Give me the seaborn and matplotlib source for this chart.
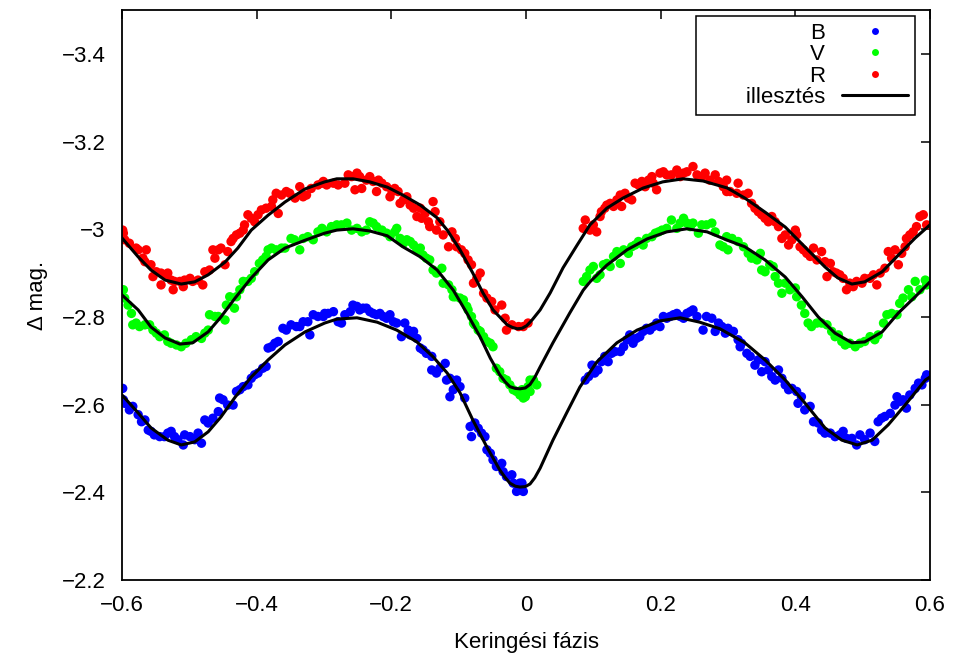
import numpy as np
import pandas as pd
import matplotlib
matplotlib.use("Agg")
import matplotlib.pyplot as plt
from matplotlib.ticker import FuncFormatter
from matplotlib.lines import Line2D
import seaborn as sns

# ---- observed magnitudes (phase, delta mag) ----
b_phase = [-0.599, -0.598, -0.596, -0.589, -0.584, -0.576, -0.571, -0.566, -0.561, -0.557, -0.552, -0.544,
           -0.537, -0.532, -0.527, -0.522, -0.517, -0.509, -0.507, -0.499, -0.492, -0.487, -0.482, -0.477,
           -0.472, -0.465, -0.457, -0.455, -0.450, -0.443, -0.435, -0.430, -0.425, -0.420, -0.413, -0.408,
           -0.403, -0.398, -0.391, -0.386, -0.383, -0.378, -0.373, -0.368, -0.361, -0.356, -0.349, -0.341,
           -0.336, -0.331, -0.324, -0.321, -0.316, -0.309, -0.299,
           -0.301, -0.294, -0.286, -0.279, -0.274, -0.269, -0.261, -0.257, -0.251, -0.247, -0.242, -0.237,
           -0.232, -0.227, -0.222, -0.217, -0.212, -0.207, -0.202, -0.197, -0.192, -0.185, -0.180, -0.175,
           -0.172, -0.167, -0.162, -0.157, -0.153, -0.148, -0.140, -0.140, -0.133, -0.128, -0.120, -0.118,
           -0.113, -0.108, -0.103, -0.113, -0.098, -0.091, -0.083, -0.081, -0.076, -0.071, -0.066, -0.061,
           -0.058, -0.053, -0.049, -0.044, -0.036, -0.034, -0.029, -0.021, -0.019, -0.014, -0.009, -0.006,
           -0.004,
           0.088, 0.093, 0.098, 0.102, 0.107, 0.112, 0.117, 0.122, 0.127, 0.132, 0.140, 0.145, 0.150, 0.154,
           0.159, 0.164, 0.169, 0.174, 0.179, 0.184, 0.189, 0.194, 0.199, 0.204, 0.209, 0.214, 0.219, 0.224,
           0.229, 0.234, 0.239, 0.244, 0.248, 0.254, 0.263, 0.268, 0.276, 0.281, 0.286, 0.291, 0.296, 0.300,
           0.300, 0.308, 0.315, 0.320, 0.318, 0.328, 0.333, 0.340, 0.345, 0.350, 0.355, 0.360, 0.365, 0.370,
           0.375, 0.380, 0.385, 0.390, 0.395, 0.402, 0.404, 0.409, 0.414, 0.422, 0.427, 0.434, 0.439, 0.444,
           0.452, 0.459, 0.466, 0.471, 0.476, 0.484, 0.491, 0.496, 0.503, 0.511, 0.518, 0.523, 0.528, 0.533,
           0.541, 0.548, 0.551, 0.555, 0.560, 0.565, 0.570, 0.578, 0.583, 0.588, 0.593, 0.595]
b_mag = [-2.637, -2.611, -2.603, -2.588, -2.596, -2.577, -2.561, -2.565, -2.542, -2.539, -2.531, -2.527,
         -2.527, -2.535, -2.539, -2.527, -2.520, -2.508, -2.531, -2.527, -2.520, -2.535, -2.512, -2.565,
         -2.558, -2.569, -2.584, -2.615, -2.611, -2.599, -2.599, -2.630, -2.634, -2.641, -2.645, -2.660,
         -2.668, -2.672, -2.683, -2.687, -2.729, -2.732, -2.740, -2.744, -2.774, -2.770, -2.782, -2.778,
         -2.778, -2.789, -2.789, -2.759, -2.805, -2.801, -2.808,
         -2.801, -2.808, -2.812, -2.789, -2.786, -2.805, -2.812, -2.827, -2.824, -2.816, -2.820, -2.820,
         -2.812, -2.808, -2.805, -2.808, -2.801, -2.797, -2.805, -2.789, -2.786, -2.755, -2.786, -2.770,
         -2.759, -2.767, -2.751, -2.729, -2.725, -2.717, -2.710, -2.679, -2.672, -2.683, -2.694, -2.656,
         -2.660, -2.634, -2.656, -2.618, -2.641, -2.615, -2.550, -2.527, -2.558, -2.546, -2.535, -2.527,
         -2.497, -2.489, -2.474, -2.459, -2.466, -2.447, -2.436, -2.440, -2.421, -2.402, -2.421, -2.421,
         -2.402,
         -2.656, -2.664, -2.690, -2.672, -2.679, -2.698, -2.710, -2.698, -2.717, -2.721, -2.721, -2.732,
         -2.748, -2.759, -2.740, -2.751, -2.755, -2.767, -2.774, -2.770, -2.778, -2.786, -2.778, -2.801,
         -2.797, -2.801, -2.805, -2.808, -2.801, -2.797, -2.808, -2.812, -2.816, -2.801, -2.770, -2.801,
         -2.797, -2.767, -2.786, -2.778, -2.763, -2.767,
         -2.774, -2.767, -2.748, -2.740, -2.732, -2.717, -2.710, -2.690, -2.702, -2.675, -2.698, -2.679,
         -2.664, -2.656, -2.679, -2.660, -2.645, -2.634, -2.637, -2.630, -2.603, -2.618, -2.588, -2.596,
         -2.561, -2.558, -2.542, -2.535, -2.535, -2.527, -2.531, -2.539, -2.523, -2.523, -2.508, -2.531,
         -2.520, -2.535, -2.516, -2.561, -2.569, -2.573, -2.580, -2.599, -2.618, -2.607, -2.611, -2.592,
         -2.622, -2.637, -2.649, -2.645, -2.660, -2.668]

v_phase = [-0.598, -0.596, -0.591, -0.586, -0.584, -0.579, -0.574, -0.566, -0.559, -0.554, -0.549, -0.544,
           -0.537, -0.532, -0.527, -0.519, -0.512, -0.505, -0.497, -0.490, -0.482, -0.477, -0.472, -0.470,
           -0.462, -0.457, -0.447, -0.445, -0.440, -0.433, -0.430, -0.425, -0.420, -0.413, -0.408, -0.403,
           -0.396, -0.391, -0.386, -0.383, -0.378, -0.371, -0.363, -0.358, -0.349, -0.344, -0.336, -0.331,
           -0.324, -0.316, -0.309, -0.301,
           -0.303, -0.296, -0.289, -0.281, -0.274, -0.266, -0.259, -0.251, -0.244, -0.237, -0.232, -0.227,
           -0.222, -0.214, -0.207, -0.202, -0.195, -0.192, -0.187, -0.182, -0.177, -0.172, -0.167, -0.162,
           -0.157, -0.153, -0.148, -0.143, -0.138, -0.133, -0.125, -0.123, -0.115, -0.110, -0.105, -0.098,
           -0.093, -0.086, -0.081, -0.076, -0.068, -0.063, -0.058, -0.053, -0.049,
           -0.108, -0.088, -0.078, -0.071, -0.044, -0.039, -0.034, -0.029, -0.024, -0.019, -0.014, -0.009,
           -0.004, 0.003, 0.006, -0.006, -0.001, 0.006, 0.011, 0.016,
           0.085, 0.090, 0.095, 0.100, 0.105, 0.110, 0.115, 0.120, 0.125, 0.130, 0.135, 0.140, 0.145, 0.152,
           0.157, 0.162, 0.167, 0.174, 0.179, 0.187, 0.192, 0.197, 0.202, 0.209, 0.216, 0.224, 0.229, 0.234,
           0.239, 0.244, 0.248, 0.256, 0.261, 0.268, 0.276, 0.281, 0.288, 0.293, 0.298, 0.300,
           0.306, 0.315, 0.323, 0.330, 0.335, 0.343, 0.348, 0.350, 0.355, 0.362, 0.367, 0.370, 0.375, 0.380,
           0.385, 0.392, 0.400, 0.402, 0.409, 0.414, 0.419, 0.424, 0.432, 0.439, 0.447, 0.454, 0.459, 0.464,
           0.469, 0.474, 0.481, 0.489, 0.496, 0.503, 0.511, 0.518, 0.523, 0.531, 0.536, 0.543, 0.551, 0.555,
           0.560, 0.568, 0.573, 0.578, 0.585, 0.593, 0.595]
v_mag = [-2.862, -2.843, -2.827, -2.808, -2.782, -2.786, -2.778, -2.782, -2.782, -2.770, -2.763, -2.755,
         -2.759, -2.744, -2.740, -2.736, -2.732, -2.740, -2.748, -2.755, -2.751, -2.763, -2.770, -2.805,
         -2.801, -2.801, -2.793, -2.827, -2.846, -2.820, -2.846, -2.862, -2.881, -2.881, -2.888, -2.903,
         -2.922, -2.930, -2.938, -2.953, -2.957, -2.953, -2.957, -2.957, -2.979, -2.976, -2.953, -2.979,
         -2.983, -2.976, -2.994, -2.998,
         -3.002, -2.994, -3.006, -3.010, -3.010, -3.014, -2.998, -3.002, -2.994, -2.998, -3.017, -3.014,
         -3.006, -2.998, -2.991, -2.983, -2.994, -3.002, -2.979, -2.968, -2.976, -2.972, -2.964, -2.953,
         -2.957, -2.941, -2.934, -2.930, -2.907, -2.900, -2.911, -2.877, -2.873, -2.862, -2.846, -2.843,
         -2.839, -2.816, -2.801, -2.782, -2.767, -2.755, -2.744, -2.740, -2.732,
         -2.846, -2.824, -2.786, -2.770, -2.683, -2.675, -2.660, -2.656, -2.645, -2.634, -2.630, -2.622,
         -2.615, -2.641, -2.656, -2.634, -2.618, -2.630, -2.656, -2.645,
         -2.881, -2.892, -2.907, -2.915, -2.888, -2.896, -2.919, -2.922, -2.915, -2.938, -2.949, -2.922,
         -2.953, -2.945, -2.960, -2.964, -2.972, -2.964, -2.979, -2.983, -2.991, -2.994, -2.998, -3.002,
         -3.021, -3.002, -3.014, -3.025, -3.014, -3.006, -3.014, -2.991, -3.010, -3.010, -3.014, -2.994,
         -2.964, -2.960, -2.983, -2.953,
         -2.979, -2.972, -2.960, -2.945, -2.934, -2.930, -2.945, -2.907, -2.903, -2.919, -2.915, -2.892,
         -2.877, -2.854, -2.877, -2.862, -2.866, -2.846, -2.827, -2.808, -2.786, -2.778, -2.786, -2.786,
         -2.782, -2.767, -2.755, -2.759, -2.744, -2.736, -2.740, -2.732, -2.740, -2.744, -2.755, -2.748,
         -2.759, -2.786, -2.805, -2.808, -2.805, -2.831, -2.843, -2.862, -2.846, -2.881, -2.862, -2.884,
         -2.873]

r_phase = [-0.599, -0.598, -0.596, -0.589, -0.579, -0.576, -0.564, -0.569, -0.566, -0.557, -0.554, -0.549,
           -0.542, -0.537, -0.532, -0.542, -0.527, -0.522, -0.524, -0.514, -0.507, -0.509, -0.499, -0.495,
           -0.487, -0.480, -0.477, -0.470, -0.465, -0.462, -0.457, -0.453, -0.447, -0.443, -0.438, -0.435,
           -0.430, -0.425, -0.420, -0.418, -0.413, -0.408, -0.403, -0.398, -0.393, -0.386, -0.378, -0.376,
           -0.371, -0.368, -0.363, -0.356, -0.351, -0.343, -0.336, -0.331, -0.326, -0.319, -0.309, -0.301,
           -0.303, -0.296, -0.286, -0.279, -0.269, -0.264, -0.259, -0.251, -0.247, -0.254, -0.244, -0.237,
           -0.232, -0.227, -0.219, -0.222, -0.214, -0.207, -0.202, -0.199, -0.195, -0.190, -0.187, -0.182,
           -0.177, -0.172, -0.167, -0.162, -0.157, -0.155, -0.150, -0.145, -0.143, -0.138, -0.135, -0.133,
           -0.128, -0.123, -0.115, -0.110, -0.105, -0.103, -0.096, -0.091, -0.086, -0.081, -0.078, -0.073,
           -0.068, -0.063, -0.058, -0.051, -0.046, -0.036, -0.031, -0.029, -0.021, -0.011, -0.004, 0.003,
           0.088, 0.085, 0.095, 0.100, 0.105, 0.110, 0.112, 0.117, 0.120, 0.125, 0.130, 0.135, 0.140, 0.142,
           0.147, 0.152, 0.157, 0.162, 0.167, 0.172, 0.177, 0.182, 0.187, 0.189, 0.194, 0.199, 0.204, 0.209,
           0.216, 0.224, 0.229, 0.234, 0.239, 0.248, 0.254, 0.261, 0.266, 0.273, 0.281, 0.286, 0.293, 0.298,
           0.298, 0.303, 0.313, 0.315, 0.323, 0.330, 0.335, 0.340, 0.345, 0.350, 0.355, 0.360, 0.365, 0.370,
           0.375, 0.380, 0.385, 0.390, 0.395, 0.400, 0.402, 0.407, 0.412, 0.417, 0.422, 0.427, 0.432, 0.439,
           0.444, 0.447, 0.452, 0.456, 0.461, 0.466, 0.471, 0.476, 0.481, 0.486, 0.491, 0.499, 0.503, 0.511,
           0.516, 0.521, 0.526, 0.533, 0.538, 0.543, 0.548, 0.553, 0.558, 0.563, 0.565, 0.570, 0.575, 0.580,
           0.585, 0.590, 0.595]
r_mag = [-2.998, -2.991, -2.976, -2.968, -2.957, -2.953, -2.953, -2.934, -2.926, -2.919, -2.892, -2.903,
         -2.900, -2.896, -2.900, -2.873, -2.884, -2.881, -2.862, -2.881, -2.884, -2.869, -2.888, -2.881,
         -2.884, -2.873, -2.903, -2.907, -2.953, -2.934, -2.953, -2.957, -2.919, -2.949, -2.972, -2.979,
         -2.987, -2.991, -2.998, -3.010, -3.033, -3.025, -3.017, -3.033, -3.044, -3.048, -3.052, -3.067,
         -3.082, -3.036, -3.078, -3.086, -3.082, -3.071, -3.097, -3.074, -3.078, -3.093, -3.101, -3.109,
         -3.105, -3.101, -3.105, -3.101, -3.105, -3.124, -3.120, -3.128, -3.120, -3.090, -3.093, -3.112,
         -3.120, -3.109, -3.112, -3.086, -3.105, -3.097, -3.074, -3.086, -3.093, -3.086, -3.059, -3.067,
         -3.074, -3.055, -3.048, -3.029, -3.048, -3.025, -3.036, -3.017, -3.006, -3.063, -3.040, -2.998,
         -3.017, -2.987, -2.960, -2.994, -2.979, -2.960, -2.953, -2.945, -2.930, -2.919, -2.877, -2.888,
         -2.900, -2.854, -2.843, -2.835, -2.816, -2.827, -2.797, -2.770, -2.782, -2.778, -2.778, -2.786,
         -3.021, -3.002, -2.998, -3.010, -2.994, -3.029, -3.040, -3.048, -3.055, -3.059, -3.052, -3.067,
         -3.078, -3.052, -3.082, -3.071, -3.067, -3.105, -3.101, -3.109, -3.097, -3.112, -3.120, -3.105,
         -3.090, -3.128, -3.131, -3.124, -3.124, -3.135, -3.120, -3.128, -3.131, -3.143, -3.124, -3.120,
         -3.128, -3.112, -3.124, -3.109, -3.097, -3.086,
         -3.112, -3.086, -3.082, -3.105, -3.078, -3.082, -3.059, -3.048, -3.040, -3.033, -3.025, -3.017,
         -3.029, -3.017, -3.006, -2.979, -2.987, -2.964, -2.976, -2.998, -2.987, -2.960, -2.953, -2.945,
         -2.938, -2.957, -2.930, -2.949, -2.926, -2.892, -2.922, -2.903, -2.900, -2.896, -2.888, -2.862,
         -2.877, -2.869, -2.881, -2.877, -2.888, -2.888, -2.896, -2.873, -2.900, -2.911, -2.949, -2.934,
         -2.953, -2.919, -2.945, -2.960, -2.979, -2.987, -2.994, -3.006, -3.029, -3.033, -3.010]

# ---- fitted light curves ----
fit_b_phase = [-0.600, -0.576, -0.557, -0.532, -0.512, -0.492, -0.472, -0.453, -0.432, -0.408, -0.383,
               -0.358, -0.328, -0.299, -0.281, -0.251, -0.221, -0.192, -0.162, -0.138, -0.117, -0.098,
               -0.079, -0.058, -0.039, -0.031, -0.024, -0.016, -0.009, -0.001, 0.006, 0.013, 0.021, 0.040,
               0.061, 0.080, 0.105, 0.135, 0.165, 0.199, 0.229, 0.258, 0.288, 0.325, 0.355, 0.385, 0.414,
               0.444, 0.469, 0.492, 0.514, 0.538, 0.563, 0.593, 0.600]
fit_b = [-2.622, -2.581, -2.547, -2.519, -2.508, -2.515, -2.538, -2.572, -2.617, -2.663, -2.702, -2.736,
         -2.766, -2.786, -2.795, -2.798, -2.788, -2.770, -2.743, -2.709, -2.672, -2.627, -2.565, -2.503,
         -2.451, -2.434, -2.421, -2.414, -2.412, -2.413, -2.419, -2.433, -2.455, -2.519, -2.583, -2.640,
         -2.697, -2.741, -2.770, -2.791, -2.798, -2.788, -2.773, -2.741, -2.702, -2.656, -2.604, -2.547,
         -2.519, -2.508, -2.519, -2.554, -2.599, -2.656, -2.663]

fit_v_phase = [-0.600, -0.576, -0.557, -0.536, -0.514, -0.495, -0.472, -0.453, -0.432, -0.408, -0.383,
               -0.358, -0.328, -0.299, -0.281, -0.257, -0.232, -0.206, -0.183, -0.157, -0.132, -0.108,
               -0.088, -0.068, -0.053, -0.039, -0.031, -0.024, -0.016, -0.009, -0.001, 0.006, 0.013, 0.021,
               0.040, 0.065, 0.085, 0.095, 0.120, 0.150, 0.180, 0.209, 0.239, 0.269, 0.299, 0.325, 0.355,
               0.385, 0.410, 0.434, 0.459, 0.484, 0.503, 0.529, 0.553, 0.578, 0.600]
fit_v = [-2.850, -2.816, -2.777, -2.752, -2.738, -2.741, -2.766, -2.800, -2.843, -2.889, -2.930, -2.957,
         -2.975, -2.991, -2.998, -3.001, -2.996, -2.985, -2.960, -2.937, -2.907, -2.861, -2.809, -2.754,
         -2.706, -2.668, -2.652, -2.641, -2.637, -2.636, -2.638, -2.646, -2.662, -2.686, -2.741, -2.809,
         -2.861, -2.880, -2.918, -2.953, -2.978, -2.994, -3.001, -2.994, -2.975, -2.960, -2.930, -2.891,
         -2.846, -2.800, -2.763, -2.741, -2.743, -2.766, -2.809, -2.846, -2.880]

fit_r_phase = [-0.600, -0.576, -0.557, -0.536, -0.512, -0.492, -0.472, -0.447, -0.428, -0.408, -0.383,
               -0.358, -0.328, -0.299, -0.281, -0.257, -0.232, -0.206, -0.183, -0.157, -0.132, -0.117,
               -0.098, -0.079, -0.064, -0.049, -0.036, -0.028, -0.020, -0.013, -0.006, 0.001, 0.009, 0.021,
               0.036, 0.055, 0.076, 0.095, 0.120, 0.144, 0.174, 0.203, 0.233, 0.263, 0.299, 0.325, 0.355,
               0.385, 0.414, 0.444, 0.463, 0.484, 0.503, 0.529, 0.553, 0.578, 0.600]
fit_r = [-2.980, -2.937, -2.907, -2.884, -2.875, -2.880, -2.896, -2.925, -2.957, -2.998, -3.032, -3.062,
         -3.092, -3.108, -3.115, -3.115, -3.108, -3.096, -3.078, -3.055, -3.026, -2.998, -2.953, -2.900,
         -2.855, -2.816, -2.795, -2.782, -2.776, -2.773, -2.774, -2.780, -2.793, -2.816, -2.855, -2.912,
         -2.964, -3.010, -3.048, -3.071, -3.094, -3.108, -3.115, -3.110, -3.094, -3.071, -3.039, -3.005,
         -2.960, -2.914, -2.889, -2.875, -2.880, -2.903, -2.941, -2.980, -3.010]

bands = ["B", "V", "R"]
band_colors = {"B": "#0000ff", "V": "#00ff00", "R": "#ff0000"}
fit_label = "illesztés"
y_ticks = [-3.4, -3.2, -3.0, -2.8, -2.6, -2.4, -2.2]
x_ticks = [-0.6, -0.4, -0.2, 0.0, 0.2, 0.4, 0.6]

points = pd.concat([
    pd.DataFrame({"phase": b_phase, "mag": b_mag, "band": "B"}),
    pd.DataFrame({"phase": v_phase, "mag": v_mag, "band": "V"}),
    pd.DataFrame({"phase": r_phase, "mag": r_mag, "band": "R"}),
], ignore_index=True)

fits = {
    "B": (fit_b_phase, fit_b),
    "V": (fit_v_phase, fit_v),
    "R": (fit_r_phase, fit_r),
}

sns.set_style("white")
plt.rcParams["font.family"] = ["Liberation Sans", "DejaVu Sans"]
plt.rcParams["axes.unicode_minus"] = True
plt.rcParams["text.color"] = "black"
plt.rcParams["axes.labelcolor"] = "black"
FS = 16

fig = plt.figure(figsize=(9.56, 6.59), dpi=100)
ax = fig.add_axes([122 / 956, 1 - 580 / 659, 808 / 956, 570 / 659])

sns.scatterplot(data=points, x="phase", y="mag", hue="band", hue_order=bands,
                palette=band_colors, s=46, linewidth=0, edgecolor="none",
                legend=False, ax=ax, zorder=2)

for band in bands:
    ph, mg = fits[band]
    sns.lineplot(x=ph, y=mg, color="black", linewidth=2.2, sort=False,
                 estimator=None, ax=ax, zorder=3)

ax.set_xlim(-0.6, 0.6)
ax.set_ylim(-2.2, -3.5)
ax.set_xticks(x_ticks)
ax.set_yticks(y_ticks)
fmt = FuncFormatter(lambda v, p: f"{v:g}".replace("-", "\u2212"))
ax.xaxis.set_major_formatter(fmt)
ax.yaxis.set_major_formatter(fmt)
ax.tick_params(direction="in", length=6.5, width=1.1, top=True, right=True,
               labelsize=FS, colors="black")
ax.tick_params(axis="x", pad=11)
ax.tick_params(axis="y", pad=12)
for sp in ax.spines.values():
    sp.set_visible(True)
    sp.set_linewidth(1.3)
    sp.set_color("black")

ax.set_xlabel("Keringési fázis", fontsize=FS, labelpad=11, color="black")
ax.set_ylabel("\u0394 mag.", fontsize=FS, labelpad=10, color="black")

# key: text on the left, sample on the right, framed box in the upper-right corner
handles = [Line2D([], [], linestyle="none", marker="o", markersize=5,
                  markerfacecolor=band_colors[b], markeredgecolor="none") for b in bands]
handles.append(Line2D([], [], color="black", linewidth=2.2))
labels = bands + ["       " + fit_label]
leg = ax.legend(handles, labels, loc="upper right", bbox_to_anchor=(0.9814, 0.9895),
                borderaxespad=0, markerfirst=False, fontsize=FS, handlelength=3.0,
                handletextpad=0.75, labelspacing=0.02, borderpad=0.3,
                fancybox=False, framealpha=1, edgecolor="black")
leg.get_frame().set_linewidth(1.1)
for t in leg.get_texts():
    t.set_color("black")

fig.savefig("out.png", dpi=100)
